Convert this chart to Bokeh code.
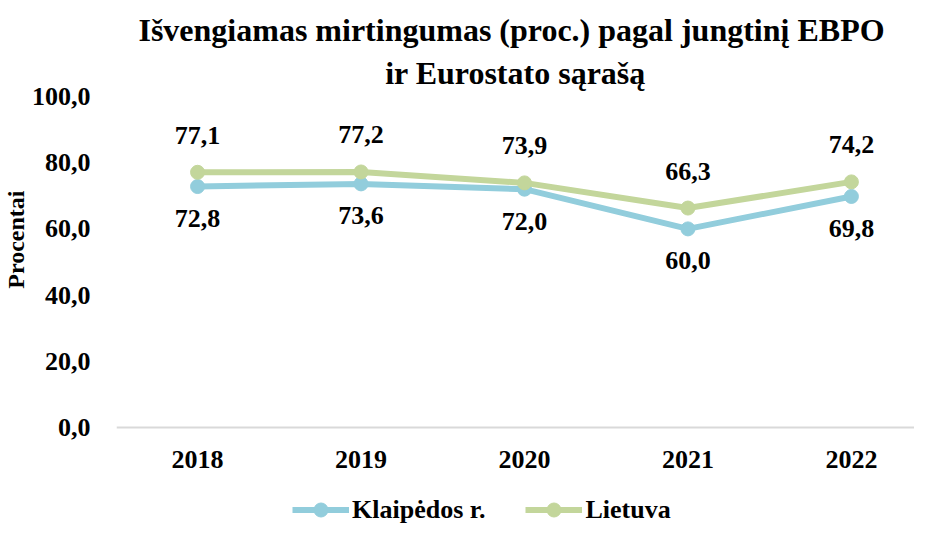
from bokeh.plotting import figure
from bokeh.models import (Range1d, FixedTicker, Legend, LegendItem, Title, ColumnDataSource)
from bokeh.core.properties import value
from bokeh.embed import file_html
from bokeh.resources import INLINE

years = ["2018", "2019", "2020", "2021", "2022"]
klaipedos = [72.8, 73.6, 72.0, 60.0, 69.8]
lietuva = [77.1, 77.2, 73.9, 66.3, 74.2]
y_ticks = [0, 20, 40, 60, 80, 100]
y_tick_labels = ["0,0", "20,0", "40,0", "60,0", "80,0", "100,0"]
title_lines = ["Išvengiamas mirtingumas (proc.)  pagal jungtinį EBPO", "ir Eurostato sąrašą"]
y_title = "Procentai"
series_names = ["Klaipėdos r.", "Lietuva"]

FONT = "Liberation Serif"
BLUE = "#92CDDC"
GREEN = "#C3D69B"

xs = list(range(len(years)))

def fmt(v):
    return f"{v:.1f}".replace(".", ",")

p = figure(width=914, height=523, output_backend="svg", toolbar_location=None,
           x_range=Range1d(-0.496, 4.386), y_range=Range1d(-29.0, 100),
           min_border_left=108, min_border_right=0, min_border_top=84, min_border_bottom=0)
p.outline_line_color = None
p.grid.visible = False
p.background_fill_color = "white"
p.border_fill_color = "white"

# titles (bottom line added first, nearest to the frame)
p.title = None
p.add_layout(Title(text=title_lines[1], align="center", text_font=FONT, text_font_size="32px",
                   text_font_style="bold", text_color="black", standoff=11), "above")
p.add_layout(Title(text=title_lines[0], align="center", text_font=FONT, text_font_size="32px",
                   text_font_style="bold", text_color="black", standoff=0), "above")
p.add_layout(Title(text=" ", text_font_size="2px", standoff=5), "above")

# y axis
p.yaxis.ticker = FixedTicker(ticks=y_ticks)
p.yaxis.major_label_overrides = {t: l for t, l in zip(y_ticks, y_tick_labels)}
p.yaxis.axis_line_color = None
p.yaxis.major_tick_line_color = None
p.yaxis.minor_tick_line_color = None
p.yaxis.major_label_standoff = 20
p.yaxis.major_label_text_font = FONT
p.yaxis.major_label_text_font_size = "26px"
p.yaxis.major_label_text_font_style = "bold"
p.yaxis.major_label_text_color = "black"
p.add_layout(Title(text=y_title, align="right", offset=94, text_font=FONT,
                   text_font_size="24px", text_font_style="bold", text_color="black",
                   standoff=0), "left")

# x axis, drawn at y = 0
p.xaxis.fixed_location = 0
p.xaxis.ticker = FixedTicker(ticks=xs)
p.xaxis.major_label_overrides = {i: y for i, y in zip(xs, years)}
p.xaxis.axis_line_color = "#D9D9D9"
p.xaxis.axis_line_width = 2
p.xaxis.major_tick_line_color = None
p.xaxis.minor_tick_line_color = None
p.xaxis.major_label_standoff = 17
p.xaxis.major_label_text_font = FONT
p.xaxis.major_label_text_font_size = "26px"
p.xaxis.major_label_text_font_style = "bold"
p.xaxis.major_label_text_color = "black"

src_k = ColumnDataSource(dict(x=xs, y=klaipedos, t=[fmt(v) for v in klaipedos]))
src_l = ColumnDataSource(dict(x=xs, y=lietuva, t=[fmt(v) for v in lietuva]))

lk = p.line("x", "y", source=src_k, line_color=BLUE, line_width=6)
ck = p.scatter("x", "y", source=src_k, size=14, fill_color=BLUE, line_color=BLUE)
ll = p.line("x", "y", source=src_l, line_color=GREEN, line_width=6)
cl = p.scatter("x", "y", source=src_l, size=14, fill_color=GREEN, line_color=GREEN)

p.text("x", "y", text="t", source=src_k, text_align="center", text_baseline="middle",
       y_offset=32, text_font=value(FONT), text_font_size="26px", text_font_style="bold",
       text_color="black")
p.text("x", "y", text="t", source=src_l, text_align="center", text_baseline="middle",
       y_offset=-37, text_font=value(FONT), text_font_size="26px", text_font_style="bold",
       text_color="black")

legend = Legend(items=[LegendItem(label=series_names[0], renderers=[lk, ck]),
                       LegendItem(label=series_names[1], renderers=[ll, cl])],
                orientation="horizontal", location=(176, -4),
                label_text_font="Times New Roman", label_text_font_size="26px",
                label_text_font_style="bold", label_text_color="black",
                glyph_width=57, glyph_height=35, spacing=40, padding=0, margin=0,
                border_line_color=None, background_fill_alpha=0, label_standoff=3)
p.add_layout(legend, "center")

open("out.html", "w").write(file_html(p, INLINE))
